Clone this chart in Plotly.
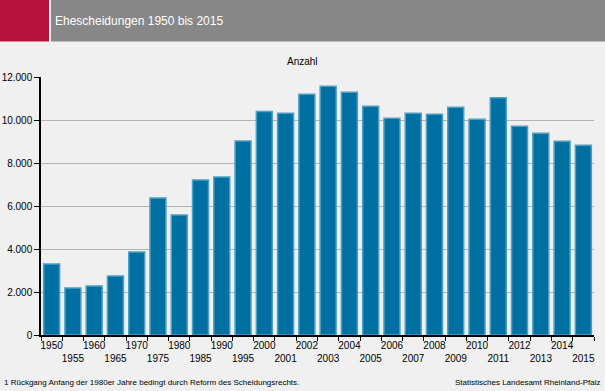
import plotly.graph_objects as go

years = ["1950", "1955", "1960", "1965", "1970", "1975", "1980", "1985", "1990", "1995",
         "2000", "2001", "2002", "2003", "2004", "2005", "2006", "2007", "2008", "2009",
         "2010", "2011", "2012", "2013", "2014", "2015"]
divorces = [3300, 2190, 2280, 2750, 3860, 6370, 5580, 7210, 7350, 9020,
            10400, 10310, 11200, 11570, 11290, 10640, 10080, 10310, 10270, 10590,
            10030, 11040, 9710, 9380, 9010, 8820]
y_ticks = [0, 2000, 4000, 6000, 8000, 10000, 12000]
y_labels = ["0", "2.000", "4.000", "6.000", "8.000", "10.000", "12.000"]

W, H = 605, 391
L, R, T, B = 41, 11, 77, 56
pw, ph = W - L - R, H - T - B

def px(x):
    return (x - L) / pw

def py(y):
    return (H - B - y) / ph

tick_text = [y if i % 2 == 0 else "<br>" + y for i, y in enumerate(years)]

fig = go.Figure()
fig.add_trace(go.Bar(
    x=years, y=divorces,
    marker=dict(color="#0070A2", line=dict(color="#4E9FC4", width=1.5)),
    hoverinfo="x+y",
))

fig.update_layout(
    width=W, height=H,
    margin=dict(l=L, r=R, t=T, b=B),
    paper_bgcolor="#EFF0EF", plot_bgcolor="#EFF0EF",
    font=dict(family="Liberation Sans, Arial, sans-serif", size=10, color="#000000"),
    bargap=0.25,
    showlegend=False,
    xaxis=dict(
        type="category", tickmode="array", tickvals=years, ticktext=tick_text,
        tickson="boundaries", ticks="outside", ticklen=4, tickcolor="#000000",
        showline=True, linecolor="#000000", linewidth=1.5, showgrid=False,
        tickfont=dict(size=10), tickangle=0, automargin=False,
    ),
    yaxis=dict(
        range=[0, 12000], tickmode="array", tickvals=y_ticks, ticktext=y_labels,
        ticks="outside", ticklen=5, tickcolor="#000000",
        showline=True, linecolor="#000000", linewidth=1.5,
        showgrid=True, gridcolor="#B3B3B3", gridwidth=1, zeroline=False,
        tickfont=dict(size=10), automargin=False,
    ),
    shapes=[
        dict(type="rect", xref="paper", yref="paper", x0=px(0), x1=px(49), y0=py(41.5), y1=py(0),
             fillcolor="#B5123E", line=dict(width=0), layer="above"),
        dict(type="rect", xref="paper", yref="paper", x0=px(51), x1=px(605), y0=py(41.5), y1=py(0),
             fillcolor="#878787", line=dict(width=0), layer="above"),
    ],
    annotations=[
        dict(text="Ehescheidungen 1950 bis 2015", xref="paper", yref="paper",
             x=px(53), y=py(21), xanchor="left", yanchor="middle", showarrow=False,
             font=dict(size=12, color="#FFFFFF")),
        dict(text="Anzahl", xref="paper", yref="paper", x=px(302), y=py(62),
             xanchor="center", yanchor="middle", showarrow=False, font=dict(size=10)),
        dict(text="1 Rückgang Anfang der 1980er Jahre bedingt durch Reform des Scheidungsrechts.",
             xref="paper", yref="paper", x=px(2), y=py(383), xanchor="left", yanchor="middle",
             showarrow=False, font=dict(size=8)),
        dict(text="Statistisches Landesamt Rheinland-Pfalz", xref="paper", yref="paper",
             x=px(602), y=py(383), xanchor="right", yanchor="middle", showarrow=False,
             font=dict(size=8)),
    ],
)

fig.write_html("out.html", config={"displayModeBar": False},
               post_script="document.body.style.margin='0';document.body.style.overflow='hidden';")
